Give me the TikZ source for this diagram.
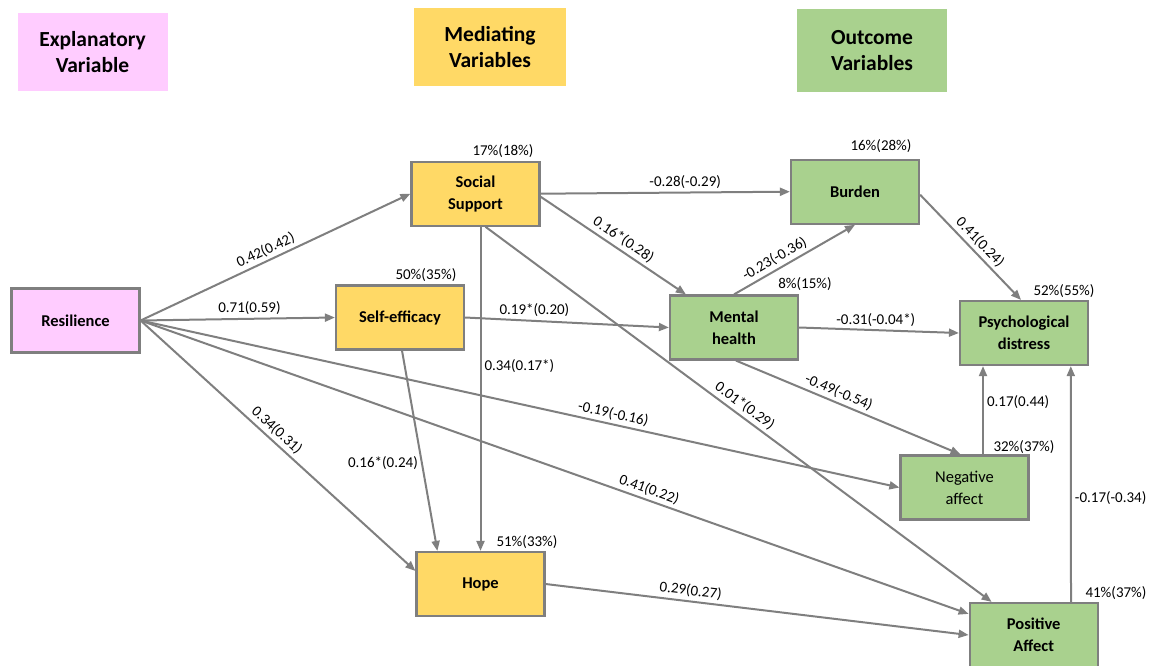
\documentclass[tikz,border=0pt]{standalone}
\usepackage{fontspec}
\setmainfont{Carlito}
\usepackage{tikz}
\usetikzlibrary{arrows.meta}

\definecolor{explcol}{HTML}{FFCCFF}
\definecolor{medcol}{HTML}{FFD966}
\definecolor{outcol}{HTML}{A9D18E}
\definecolor{linegray}{HTML}{7F7F7F}

\begin{document}
\begin{tikzpicture}[x = 1pt, y = -1pt, >={Triangle[length=10pt, width=8pt]},
	main/.style = {draw=linegray, line width=2.2pt, minimum width=128pt, minimum height=64pt, align=center, font=\fontsize{16.5}{22}\selectfont\bfseries},
	head/.style = {minimum width=150pt, minimum height=78pt, align=center, font=\fontsize{21.5}{26}\selectfont\bfseries},
	pct/.style = {inner sep=1pt, font=\fontsize{15}{18}\selectfont},
	lbl/.style = {inner sep=3pt, font=\fontsize{15}{18}\selectfont},
	link/.style = {->, draw=linegray, line width=2pt}]
	\useasboundingbox (0,0) rectangle (1161,666);
	\node[head, fill=explcol] (10) at (92.5,52) {Explanatory\\Variable};
	\node[head, fill=medcol, minimum width=152pt] (11) at (490,47) {Mediating\\Variables};
	\node[head, fill=outcol, minimum height=83pt] (12) at (872,51) {Outcome\\Variables};
	\node[main, fill=explcol] (1) at (75.5,320.5) {Resilience};
	\node[main, fill=medcol] (2) at (475.5,193.7) {Social\\Support};
	\node[main, fill=medcol] (3) at (400,317.5) {Self-efficacy};
	\node[main, fill=medcol] (4) at (480.5,584) {Hope};
	\node[main, fill=outcol] (5) at (855,191.7) {Burden};
	\node[main, fill=outcol] (6) at (734,327.5) {Mental\\health};
	\node[main, fill=outcol] (7) at (1024,333) {Psychological\\distress};
	\node[main, fill=outcol, font=\fontsize{16.5}{22}\selectfont] (8) at (964.5,487.5) {Negative\\affect};
	\node[main, fill=outcol] (9) at (1033.7,635) {Positive\\Affect};
	\node[pct] (p2) at (503,151) {17\%(18\%)};
	\node[pct] (p3) at (426,275) {50\%(35\%)};
	\node[pct] (p4) at (527,542) {51\%(33\%)};
	\node[pct] (p5) at (881,146) {16\%(28\%)};
	\node[pct] (p6) at (805,284) {8\%(15\%)};
	\node[pct] (p7) at (1064,291) {52\%(55\%)};
	\node[pct] (p8) at (1024,447) {32\%(37\%)};
	\node[pct] (p9) at (1116,593) {41\%(37\%)};
	\draw[link] (1.east) -- (2.west) node[lbl, pos=0.48, above, sloped] {0.42(0.42)};
	\draw[link] (1.east) -- (3.west) node[lbl, pos=0.56, above] {0.71(0.59)};
	\draw[link] (1.east) -- ([yshift=-20pt]4.north west) node[lbl, pos=0.47, above, sloped] {0.34(0.31)};
	\draw[link] (1.east) -- (8.west) node[lbl, pos=0.62, above, sloped] {-0.19(-0.16)};
	\draw[link] (1.east) -- ([yshift=-12pt]9.north west) node[lbl, pos=0.61, above, sloped] {0.41(0.22)};
	\draw[link] (2.east) -- (5.west) node[lbl, pos=0.58, above] {-0.28(-0.29)};
	\draw[link] ([yshift=-3pt]2.east) -- ([xshift=17pt]6.north west) node[lbl, pos=0.53, above, sloped] {0.16*(0.28)};
	\draw[link] ([xshift=5pt]2.south) -- (4.north) node[lbl, pos=0.43, right] {0.34(0.17*)};
	\draw[link] ([xshift=10pt]2.south) -- ([xshift=23pt]9.north west) node[lbl, pos=0.5, above, sloped] {0.01*(0.29)};
	\draw[link] (3.east) -- (6.west) node[lbl, pos=0.34, above] {0.19*(0.20)};
	\draw[link] ([xshift=2pt]3.south) -- ([xshift=22pt]4.north west) node[lbl, pos=0.56, left] {0.16*(0.24)};
	\draw[link] (6.north) -- (5.south) node[lbl, pos=0.38, above, sloped] {-0.23(-0.36)};
	\draw[link] ([yshift=-3pt]5.east) -- ([xshift=-3pt]7.north) node[lbl, pos=0.52, above, sloped] {0.41(0.24)};
	\draw[link] (6.east) -- (7.west) node[lbl, pos=0.48, above] {-0.31(-0.04*)};
	\draw[link] ([xshift=2pt]6.south) -- ([xshift=-4pt]8.north) node[lbl, pos=0.44, above, sloped] {-0.49(-0.54)};
	\draw[link] ([xshift=18.5pt]8.north) -- ([xshift=-41pt]7.south) node[lbl, pos=0.59, right] {0.17(0.44)};
	\draw[link] ([xshift=37.3pt]9.north) -- ([xshift=46.8pt]7.south) node[lbl, pos=0.44, right] {-0.17(-0.34)};
	\draw[link] (4.east) -- (9.west) node[lbl, pos=0.34, above, sloped] {0.29(0.27)};
\end{tikzpicture}
\end{document}
